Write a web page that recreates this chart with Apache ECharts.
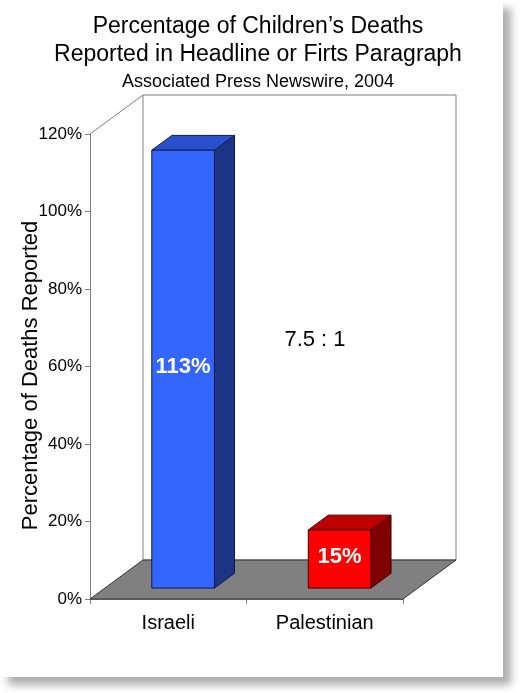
<!DOCTYPE html>
<html>
<head>
<meta charset="utf-8">
<script src="https://cdn.jsdelivr.net/npm/echarts@6/dist/echarts.min.js"></script>
<style>
html,body{margin:0;padding:0;background:#fff;}
#chart{width:520px;height:693px;}
</style>
</head>
<body>
<div id="chart"></div>
<script>
// ---- data ----
const categories = ['Israeli', 'Palestinian'];
const values = [113, 15];
const valueLabels = ['113%', '15%'];
const yTicks = { min: 0, max: 120, interval: 20 };
const titleText = 'Percentage of Children\u2019s Deaths\nReported in Headline or Firts Paragraph';
const subtitleText = 'Associated Press Newswire, 2004';
const yAxisName = 'Percentage of Deaths Reported';
const ratioText = '7.5 : 1';

// ---- styles ----
const FONT = '"Liberation Sans", Arial, sans-serif';
const DEPTH = { dx: 53, dy: -39 };
const BAR_FRONT_DEPTH = 0.28, BAR_BACK_DEPTH = 0.66, BAR_WIDTH_RATIO = 0.4;
const FACE = [
  { front: '#3366ff', side: '#1b3483', top: '#2b50cc', stroke: '#0d1a4d' },
  { front: '#ff0000', side: '#800000', top: '#c00000', stroke: '#400000' }
];

const chart = echarts.init(document.getElementById('chart'), null, { renderer: 'canvas' });

function renderWalls(params, api) {
  const cs = params.coordSys;
  const x = cs.x, y = cs.y, w = cs.width, h = cs.height;
  const dx = DEPTH.dx, dy = DEPTH.dy;
  return {
    type: 'group',
    children: [
      { type: 'rect', shape: { x: x + dx, y: y + dy, width: w, height: h },
        style: { fill: '#ffffff', stroke: '#808080', lineWidth: 1 } },
      { type: 'line', shape: { x1: x, y1: y, x2: x + dx, y2: y + dy },
        style: { stroke: '#808080', lineWidth: 1 } },
      { type: 'polygon', shape: { points: [[x, y + h], [x + w, y + h], [x + w + dx, y + h + dy], [x + dx, y + h + dy]] },
        style: { fill: '#808080', stroke: '#333333', lineWidth: 1 } }
    ]
  };
}

function renderBar(params, api) {
  const idx = api.value(0);
  const val = api.value(1);
  const base = api.coord([idx, 0]);
  const top = api.coord([idx, val]);
  const band = api.size([1, 0])[0];
  const bw = band * BAR_WIDTH_RATIO;
  const fx = BAR_FRONT_DEPTH * DEPTH.dx, fy = BAR_FRONT_DEPTH * DEPTH.dy;
  const bx = (BAR_BACK_DEPTH - BAR_FRONT_DEPTH) * DEPTH.dx, by = (BAR_BACK_DEPTH - BAR_FRONT_DEPTH) * DEPTH.dy;
  const x0 = base[0] - bw / 2 + fx, x1 = x0 + bw;
  const yb = base[1] + fy, yt = top[1] + fy;
  const c = FACE[params.dataIndex % FACE.length];
  return {
    type: 'group',
    children: [
      { type: 'polygon', shape: { points: [[x1, yt], [x1 + bx, yt + by], [x1 + bx, yb + by], [x1, yb]] },
        style: { fill: c.side, stroke: c.stroke, lineWidth: 1 } },
      { type: 'polygon', shape: { points: [[x0, yt], [x0 + bx, yt + by], [x1 + bx, yt + by], [x1, yt]] },
        style: { fill: c.top, stroke: c.stroke, lineWidth: 1 } },
      { type: 'rect', shape: { x: x0, y: yt, width: bw, height: yb - yt },
        style: { fill: c.front, stroke: c.stroke, lineWidth: 1 } },
      { type: 'text', x: (x0 + x1) / 2, y: (yt + yb) / 2 - 2,
        style: { text: valueLabels[params.dataIndex], fill: '#ffffff', font: 'bold 22px ' + FONT,
                 align: 'center', verticalAlign: 'middle' } }
    ]
  };
}

const option = {
  backgroundColor: '#ffffff',
  animation: false,
  graphic: [
    { type: 'rect', z: -10, shape: { x: 0, y: 0, width: 503, height: 677 },
      style: { fill: '#ffffff', shadowBlur: 8, shadowOffsetX: 8, shadowOffsetY: 8, shadowColor: 'rgba(0,0,0,0.32)' } },
    { type: 'text', z: 100, x: 315, y: 340,
      style: { text: ratioText, fill: '#000000', font: '22px ' + FONT, align: 'center', verticalAlign: 'middle' } }
  ],
  title: [
    { text: titleText, left: 253, top: 8, textAlign: 'center',
      textStyle: { fontFamily: FONT, fontSize: 23, fontWeight: 'normal', color: '#000', lineHeight: 28 } },
    { text: subtitleText, left: 253, top: 68, textAlign: 'center',
      textStyle: { fontFamily: FONT, fontSize: 18, fontWeight: 'normal', color: '#000' } }
  ],
  grid: { left: 90, top: 134, width: 313, height: 465, containLabel: false },
  xAxis: {
    type: 'category',
    data: categories,
    axisLine: { show: true, lineStyle: { color: '#808080' } },
    axisTick: { show: true, length: 5, lineStyle: { color: '#808080' } },
    axisLabel: { fontFamily: FONT, fontSize: 20, color: '#000', margin: 14 }
  },
  yAxis: {
    type: 'value',
    min: yTicks.min, max: yTicks.max, interval: yTicks.interval,
    name: yAxisName,
    nameLocation: 'middle',
    nameGap: 48,
    nameRotate: 90,
    nameMoveOverlap: false,
    nameTextStyle: { fontFamily: FONT, fontSize: 22, color: '#000', padding: [0, 0, 0, -18] },
    axisLine: { show: true, lineStyle: { color: '#808080' } },
    axisTick: { show: true, length: 5, lineStyle: { color: '#808080' } },
    axisLabel: { fontFamily: FONT, fontSize: 17, color: '#000', margin: 8, formatter: '{value}%' },
    splitLine: { show: false }
  },
  series: [
    { type: 'custom', z: 1, renderItem: renderWalls, data: [[0, 0]], silent: true },
    { type: 'custom', z: 3, renderItem: renderBar,
      data: values.map((v, i) => [i, v]),
      encode: { x: 0, y: 1 } }
  ]
};
chart.setOption(option);
</script>
</body>
</html>
